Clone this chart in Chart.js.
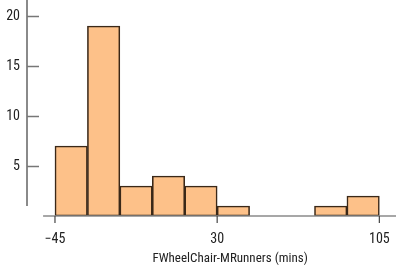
<!DOCTYPE html>
<html>
<head>
<meta charset="utf-8">
<script src="https://cdn.jsdelivr.net/npm/chart.js@4/dist/chart.umd.min.js"></script>
<style>
html,body{margin:0;padding:0;background:#fff;}
#wrap{width:396px;height:276px;position:relative;}
</style>
</head>
<body>
<div id="wrap"><canvas id="c" width="396" height="276"></canvas></div>
<script>
const binStarts = [-45, -30, -15, 0, 15, 30, 45, 60, 75, 90];
const binWidth = 15;
const counts = [7, 19, 3, 4, 3, 1, 0, 0, 1, 2];
const xTicks = [-45, 30, 105];
const yTicks = [5, 10, 15, 20];
const xTitle = 'FWheelChair-MRunners (mins)';

const FONT = '"Roboto Condensed", Roboto, "Liberation Sans", Arial, sans-serif';

const data = binStarts.map((s, i) => ({x: s + binWidth / 2, y: counts[i] > 0 ? counts[i] : null}));

const axesPlugin = {
  id: 'axesPlugin',
  afterDraw(chart) {
    const ctx = chart.ctx;
    const xs = chart.scales.x, ys = chart.scales.y;
    const ca = chart.chartArea;
    ctx.save();
    // y axis line
    ctx.strokeStyle = '#8a8a8a';
    ctx.lineWidth = 2;
    ctx.beginPath();
    ctx.moveTo(ca.left + 1, ca.top);
    ctx.lineTo(ca.left + 1, ys.getPixelForValue(1));
    ctx.stroke();
    // y tick marks
    ctx.strokeStyle = '#777';
    ctx.lineWidth = 1.5;
    yTicks.forEach(v => {
      const y = Math.round(ys.getPixelForValue(v)) + 0.5;
      ctx.beginPath();
      ctx.moveTo(ca.left + 1, y);
      ctx.lineTo(ca.left + 13, y);
      ctx.stroke();
    });
    // x axis line
    const y0 = ys.getPixelForValue(0);
    ctx.strokeStyle = '#8a8a8a';
    ctx.lineWidth = 1.5;
    ctx.beginPath();
    ctx.moveTo(xs.getPixelForValue(-50.5), y0);
    ctx.lineTo(ca.right, y0);
    ctx.stroke();
    // x tick marks
    ctx.strokeStyle = '#444';
    ctx.lineWidth = 1.2;
    xTicks.forEach(v => {
      const x = xs.getPixelForValue(v);
      ctx.beginPath();
      ctx.moveTo(x, y0);
      ctx.lineTo(x, y0 + 7);
      ctx.stroke();
    });
    // x axis title
    ctx.fillStyle = '#222';
    ctx.font = '13px ' + FONT;
    ctx.textAlign = 'center';
    ctx.textBaseline = 'middle';
    ctx.fillText(xTitle, xs.getPixelForValue(36), 259);
    ctx.restore();
  }
};

new Chart(document.getElementById('c'), {
  type: 'bar',
  data: {
    datasets: [{
      data: data,
      backgroundColor: '#fdc189',
      borderColor: '#3a2818',
      borderWidth: 1.6,
      borderSkipped: false,
      barPercentage: 1,
      categoryPercentage: 1
    }]
  },
  options: {
    responsive: false,
    animation: false,
    devicePixelRatio: 1,
    layout: {padding: 0},
    plugins: {legend: {display: false}, tooltip: {enabled: false}},
    scales: {
      x: {
        type: 'linear',
        offset: false,
        min: -58.4,
        max: 112.7,
        grid: {display: false, drawTicks: false},
        border: {display: false},
        afterFit(s) { s.height = 60; s.paddingLeft = 0; s.paddingRight = 0; },
        afterBuildTicks(s) { s.ticks = xTicks.map(v => ({value: v})); },
        ticks: {
          padding: 15,
          color: '#222',
          font: {family: FONT, size: 14},
          maxRotation: 0,
          autoSkip: false,
          callback: v => (v < 0 ? '\u2212' + Math.abs(v) : String(v))
        },
        title: {display: false}
      },
      y: {
        min: 0,
        max: 21.6,
        grid: {display: false, drawTicks: false},
        border: {display: false},
        afterFit(s) { s.width = 26; s.paddingTop = 0; s.paddingBottom = 0; },
        afterBuildTicks(s) { s.ticks = yTicks.map(v => ({value: v})); },
        ticks: {
          padding: 6,
          color: '#222',
          font: {family: FONT, size: 14}
        }
      }
    }
  },
  plugins: [axesPlugin]
});
</script>
</body>
</html>
